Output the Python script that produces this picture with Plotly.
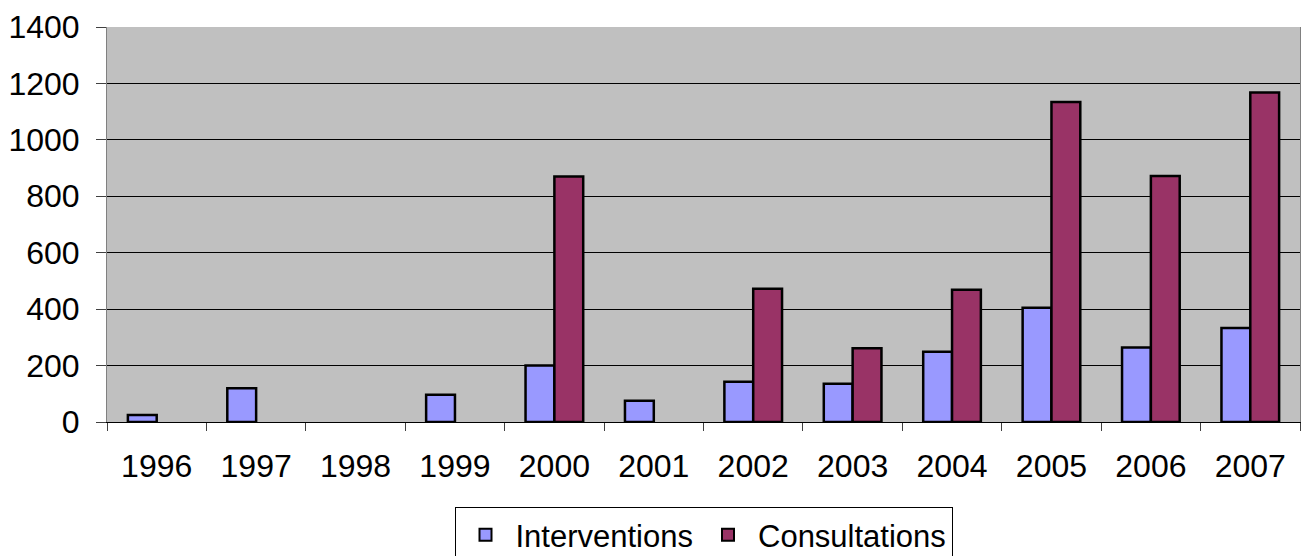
import plotly.graph_objects as go

years = ["1996", "1997", "1998", "1999", "2000", "2001", "2002", "2003", "2004", "2005", "2006", "2007"]
interventions = [25, 120, None, 97, 200, 75, 143, 136, 249, 405, 264, 333]
consultations = [None, None, None, None, 870, None, 472, 261, 469, 1134, 872, 1168]

FONT = "Liberation Sans, Arial, sans-serif"

fig = go.Figure()
fig.add_trace(go.Bar(
    x=years, y=interventions, name="Interventions",
    marker=dict(color="#9999FF", line=dict(color="black", width=2.5)),
))
fig.add_trace(go.Bar(
    x=years, y=consultations, name="Consultations",
    marker=dict(color="#993366", line=dict(color="black", width=2.5)),
))

fig.update_layout(
    width=1303, height=556,
    margin=dict(l=107, r=3, t=27, b=134),
    paper_bgcolor="white",
    plot_bgcolor="#C0C0C0",
    barmode="group",
    bargap=0.42,
    bargroupgap=0,
    font=dict(family=FONT, size=32, color="black"),
    showlegend=True,
    legend=dict(
        orientation="h",
        x=0.5, xanchor="center",
        yref="container",
        y=0.088, yanchor="top",
        bordercolor="black", borderwidth=1,
        bgcolor="white",
        font=dict(family=FONT, size=31, color="black"),
        itemsizing="constant",
        itemwidth=50,
        tracegroupgap=0,
    ),
)

fig.update_xaxes(
    type="category",
    automargin=False,
    tickson="boundaries",
    ticks="outside", ticklen=8, tickcolor="#404040", tickwidth=1,
    showline=True, linecolor="black", linewidth=1, mirror=False,
    showgrid=False,
    ticklabelstandoff=16,
    tickfont=dict(family=FONT, size=32, color="black"),
)
fig.update_yaxes(
    range=[0, 1400],
    automargin=False,
    tickvals=[0, 200, 400, 600, 800, 1000, 1200, 1400],
    ticks="outside", ticklen=10, tickcolor="#404040", tickwidth=1,
    showline=True, linecolor="#808080", linewidth=1, mirror=True,
    showgrid=True, gridcolor="black", gridwidth=1,
    zeroline=False,
    ticklabelstandoff=10,
    tickfont=dict(family=FONT, size=32, color="black"),
)

fig.write_html(
    "out.html",
    config={"displayModeBar": False},
    post_script="document.body.style.margin='0';document.body.style.overflow='hidden';",
)
